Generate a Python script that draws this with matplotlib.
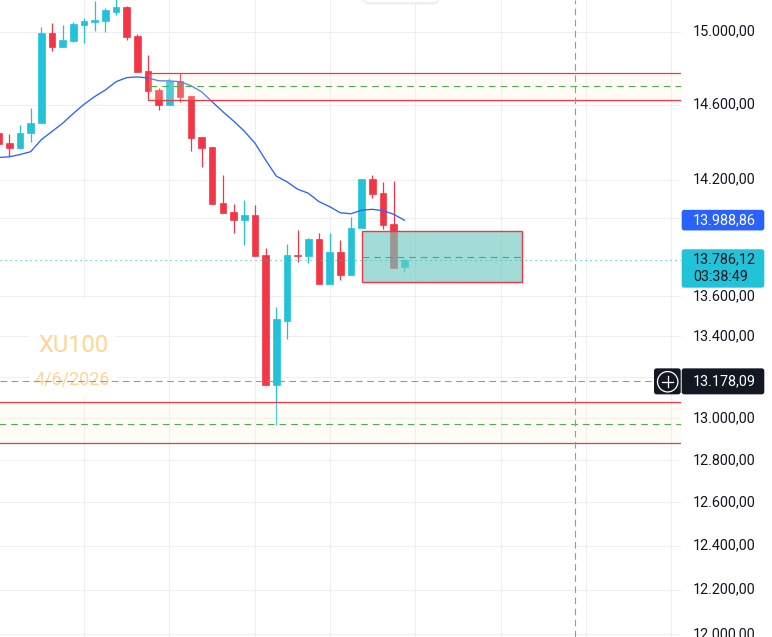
import matplotlib
matplotlib.use("Agg")
import matplotlib.pyplot as plt
from matplotlib.patches import Rectangle, FancyBboxPatch, Circle
from matplotlib.lines import Line2D
from matplotlib.transforms import IdentityTransform

# ---------------- data ----------------
opens = [14448, 14394, 14369, 14446, 14500, 14993, 14917, 14950, 15039, 15054,
         15061, 15112, 15140, 14976, 14783, 14680, 14600, 14729, 14647, 14426,
         14373, 14078, 14031, 13991, 14016, 13809, 13162, 13477, 13808, 13806,
         13890, 13663, 13825, 13706, 13947, 14202, 14130, 13969, 13750]
highs = [14458, 14442, 14491, 14582, 15026, 15048, 15039, 15054, 15076, 15172,
         15132, 15188, 15145, 14987, 14871, 14691, 14743, 14771, 14647, 14426,
         14373, 14225, 14073, 14094, 14068, 13845, 13546, 13866, 13938, 13897,
         13922, 13922, 13886, 14005, 14202, 14225, 14186, 14193, 13790]
lows = [14384, 14325, 14362, 14401, 14500, 14893, 14917, 14943, 14937, 15004,
        14998, 15093, 14954, 14779, 14669, 14573, 14600, 14613, 14353, 14268,
        14074, 14026, 13924, 13862, 13806, 13162, 12967, 13388, 13775, 13770,
        13663, 13663, 13681, 13706, 13947, 14106, 13945, 13745, 13724]
closes = [14390, 14369, 14448, 14500, 14993, 14917, 14954, 15043, 15060, 15065,
          15121, 15138, 14972, 14779, 14676, 14600, 14729, 14644, 14423, 14369,
          14074, 14027, 13991, 14016, 13806, 13162, 13484, 13808, 13802, 13890,
          13663, 13823, 13706, 13947, 14202, 14127, 13965, 13745, 13786.12]
ma = [14317, 14321, 14333, 14348, 14412, 14456, 14500, 14553, 14602, 14644,
      14680, 14725, 14747, 14751, 14745, 14730, 14729, 14725, 14703, 14670,
      14616, 14562, 14512, 14458, 14394, 14304, 14219, 14189, 14150, 14129,
      14085, 14059, 14027, 14022, 14041, 14045, 14038, 14019, 13988.86]

grid_prices = [15000, 14600, 14200, 14000, 13600, 13400, 13200, 13000,
               12800, 12600, 12400, 12200, 12000]
label_prices = [15000, 14600, 14200, 13600, 13400, 13000, 12800, 12600,
                12400, 12200, 12000]
time_grid = [8, 16, 24, 31, 39, 47, 55, 63]

upper_zone = [14623.6, 14770.7, 14700.0]   # bottom, top, middle
upper_zone_start = 14
lower_zone = [12880.4, 13076.0, 12972.8]
target_box = [13670.4, 13931.1, 13800.6]
target_start, target_end = 34, 49

last_price = 13786.12
ma_last = 13988.86
crosshair_price = 13178.09
crosshair_idx = 54
countdown = "03:38:49"
symbol = "XU100"
date_text = "4/6/2026"

# ---------------- styling ----------------
UP = "#22C3D9"
DOWN = "#F23645"
MA_C = "#2962FF"
GRID = "#EEEFF2"
TXT = "#131722"
RED = "#F23645"
GREEN = "#4CAF50"
CROSS = "#9598A1"


def fmt(v):
    s = f"{v:,.2f}"
    return s.replace(",", "X").replace(".", ",").replace("X", ".")


W, H = 772, 637
AX_W = 681
fig = plt.figure(figsize=(W / 100, H / 100), dpi=100)
fig.patch.set_facecolor("white")
ax = fig.add_axes([0, 0, AX_W / W, 1])
ax.set_yscale("log")
ax.set_ylim(11987.6, 15177.2)
ax.set_xlim(0.131, 63.9)
for s in ax.spines.values():
    s.set_visible(False)
ax.set_xticks([])
ax.set_yticks([])
ax.minorticks_off()
ax.yaxis.set_minor_locator(matplotlib.ticker.NullLocator())

# grid
ax.hlines(grid_prices, -5, 70, colors=GRID, lw=0.8, zorder=0.5)
ax.vlines(time_grid, 11000, 16000, colors=GRID, lw=0.8, zorder=0.5)

# watermark background + text
ax.add_patch(Rectangle((29 / AX_W, 1 - 397 / H), 87 / AX_W, 97 / H,
                       transform=ax.transAxes, facecolor="white",
                       edgecolor="none", zorder=1))
ax.text(73 / AX_W, 1 - 345 / H, symbol, transform=ax.transAxes,
        fontsize=17, family="Roboto", color="#FFD595", ha="center",
        va="center", zorder=1.5)
ax.text(72.5 / AX_W, 1 - 380 / H, date_text, transform=ax.transAxes,
        fontsize=13, family="Roboto", color="#FFD595", ha="center",
        va="center", zorder=1.5)

# candles
xs = list(range(len(opens)))
for i, (o, h, l, c) in enumerate(zip(opens, highs, lows, closes)):
    col = UP if c >= o else DOWN
    ax.vlines(i, l, h, colors=col, lw=0.9, zorder=2)
    lo, hi = min(o, c), max(o, c)
    ax.bar(i, max(hi - lo, 3), bottom=lo, width=0.62, color=col,
           edgecolor=col, lw=0.5, zorder=3)

# moving average
ax.plot(xs, ma, color=MA_C, lw=0.95, zorder=4)

# zones
zone_fill = (1.0, 0.957, 0.84, 0.22)
ub, ut, um = upper_zone
ax.add_patch(Rectangle((upper_zone_start, ub), 80, ut - ub,
                       facecolor=zone_fill, edgecolor=RED, lw=0.9, zorder=5))
ax.plot([upper_zone_start + 0.15, 70], [um, um], color=GREEN, lw=0.8,
        ls=(0, (6, 4.5)), zorder=5.2)
lb, lt, lm = lower_zone
ax.add_patch(Rectangle((-5, lb), 80, lt - lb,
                       facecolor=zone_fill, edgecolor=RED, lw=0.9, zorder=5))
ax.plot([-5, 70], [lm, lm], color=GREEN, lw=0.8,
        ls=(0, (6, 4.5)), zorder=5.2)

tb, tt, tm = target_box
ax.add_patch(Rectangle((target_start, tb), target_end - target_start, tt - tb,
                       facecolor=(113 / 255, 202 / 255, 192 / 255, 0.65),
                       edgecolor=RED, lw=1.0, zorder=5.5))
ax.plot([target_start, target_end], [tm, tm], color=GREEN, lw=0.8,
        ls=(0, (6, 4.5)), zorder=5.6)

# current price dotted line
ax.axhline(last_price, color=UP, lw=0.8, ls=(0, (1, 3.5)), zorder=5.8)

# crosshair
ax.axhline(crosshair_price, color=CROSS, lw=0.8, ls=(0, (6, 4)), zorder=6)
ax.axvline(crosshair_idx, color=CROSS, lw=0.8, ls=(0, (6, 4)), zorder=6)

# price labels
for p in label_prices:
    ax.text(693 / AX_W, p, fmt(p), transform=ax.get_yaxis_transform(),
            ha="left", va="center", fontsize=10.4, family="Roboto",
            color=TXT, clip_on=False)


def ydisp(p):
    return ax.transData.transform((1, p))[1]


ID = IdentityTransform()


def tag(x0, y0, w, h, color, z=10):
    fig.add_artist(FancyBboxPatch((x0, y0), w, h,
                                  boxstyle="round,pad=0,rounding_size=2.5",
                                  transform=ID, facecolor=color,
                                  edgecolor="none", zorder=z))


def ftxt(x, y, s, color, **kw):
    fig.text(x, y, s, transform=ID, color=color, ha="left", va="center",
             fontsize=10.4, family="Roboto", zorder=12, **kw)


# MA tag
yc = ydisp(ma_last)
tag(681.7, yc - 10.3, 82.6, 20.6, MA_C)
ftxt(693, yc, fmt(ma_last), "white")

# last price tag
yc = ydisp(last_price)
tag(681.7, yc - 28.1, 82.6, 38.4, UP)
ftxt(693, yc, fmt(last_price), TXT)
ftxt(693, yc - 17.4, countdown, TXT)

# crosshair tag
yc = ydisp(crosshair_price)
tag(681.7, yc - 13, 82.6, 26, TXT)
ftxt(693, yc, fmt(crosshair_price), "white")
tag(654, yc - 13, 26.7, 26, TXT)
fig.add_artist(Circle((667.7, yc - 0.4), 10.2, transform=ID, facecolor="none",
                      edgecolor="white", lw=0.9, zorder=11))
fig.add_artist(Line2D([662.2, 673.2], [yc - 0.4, yc - 0.4], transform=ID,
                      color="white", lw=0.9, zorder=11))
fig.add_artist(Line2D([667.7, 667.7], [yc - 5.9, yc + 5.1], transform=ID,
                      color="white", lw=0.9, zorder=11))

# top floating panel edge
fig.add_artist(FancyBboxPatch((363.5, H - 4.5), 75, 30,
                              boxstyle="round,pad=0,rounding_size=6",
                              transform=ID, facecolor="#E6E7EA",
                              edgecolor="none", zorder=9, alpha=0.6))
fig.add_artist(FancyBboxPatch((363, H - 3), 76, 30,
                              boxstyle="round,pad=0,rounding_size=6",
                              transform=ID, facecolor="white",
                              edgecolor="#E0E3EB", lw=0.6, zorder=9.5))

fig.savefig("out.png", dpi=100, facecolor="white")
